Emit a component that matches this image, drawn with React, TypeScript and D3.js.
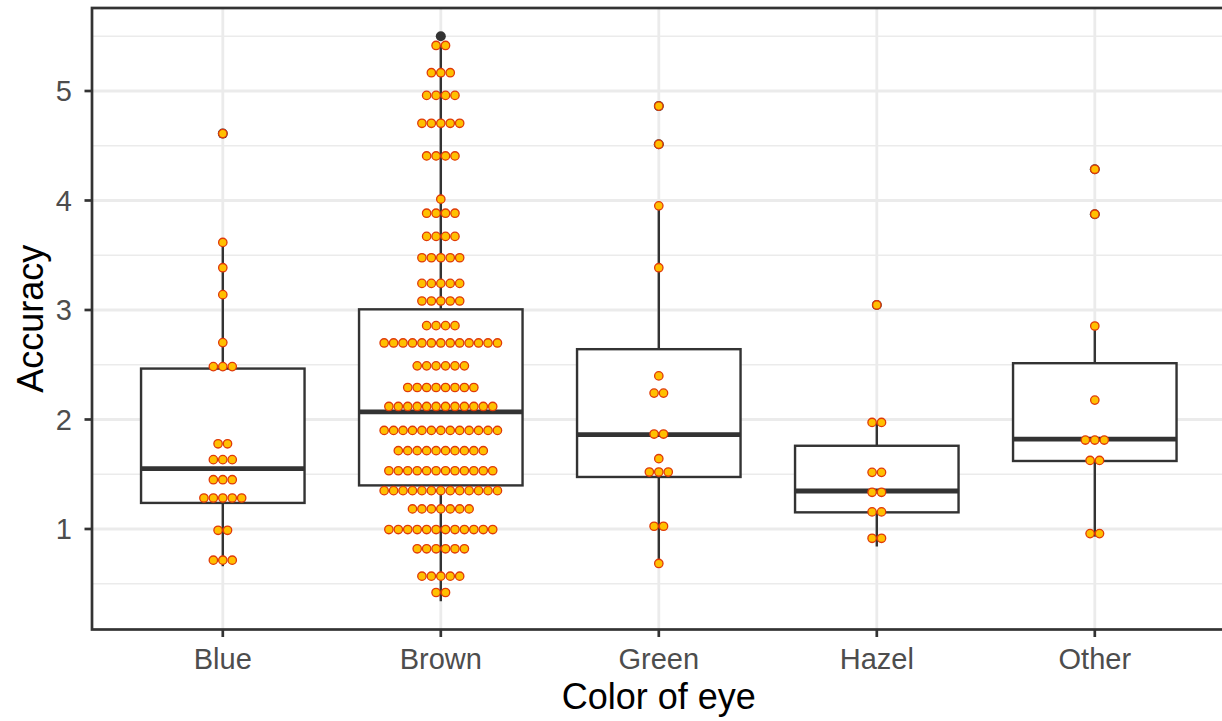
import React from "react";
import * as d3 from "d3";

const categories = ["Blue", "Brown", "Green", "Hazel", "Other"];

// box stats: [lowerWhisker, q1, median, q3, upperWhisker]
const boxLow = [0.66, 0.34, 0.66, 0.84, 0.93];
const boxQ1 = [1.238, 1.398, 1.475, 1.152, 1.621];
const boxMed = [1.551, 2.07, 1.861, 1.347, 1.821];
const boxQ3 = [2.465, 3.006, 2.642, 1.76, 2.514];
const boxHigh = [3.62, 5.42, 3.95, 1.97, 2.854];

// outliers per category
const outliers: number[][] = [
  [4.611],
  [5.5],
  [4.862, 4.513],
  [3.046],
  [4.285, 3.875],
];

// dot rows (bin centre value, number of dots) per category
const dotValues: number[][] = [
  [4.611, 3.617, 3.386, 3.14, 2.702, 2.483, 1.778, 1.633, 1.45, 1.283, 0.988, 0.715],
  [5.416, 5.167, 4.96, 4.705, 4.407, 4.012, 3.884, 3.672, 3.477, 3.243, 3.082, 2.857, 2.699, 2.49, 2.292, 2.119, 1.9, 1.715, 1.532, 1.35, 1.183, 0.995, 0.819, 0.569, 0.42],
  [4.862, 4.513, 3.951, 3.386, 2.398, 2.241, 1.867, 1.642, 1.52, 1.025, 0.685],
  [3.046, 1.973, 1.517, 1.335, 1.156, 0.915],
  [4.285, 3.875, 2.854, 2.177, 1.812, 1.626, 0.958],
];
const dotCounts: number[][] = [
  [1, 1, 1, 1, 1, 3, 2, 3, 3, 5, 2, 3],
  [2, 3, 4, 5, 4, 1, 4, 4, 5, 5, 5, 4, 13, 6, 8, 12, 13, 10, 12, 13, 7, 12, 6, 5, 2],
  [1, 1, 1, 1, 1, 2, 2, 1, 3, 2, 1],
  [1, 2, 2, 2, 2, 2],
  [1, 1, 1, 1, 3, 2, 2],
];

const yTicks = [1, 2, 3, 4, 5];
const yMinor = [0.5, 1.5, 2.5, 3.5, 4.5, 5.5];

const W = 1222;
const H = 721;
const left = 92;
const top = 8;
const bottom = 629.5;
const unit = 218;
const right = left + unit * 5.2;

const FONT = "'Liberation Sans', Arial, Helvetica, sans-serif";

export default function App() {
  const x = d3
    .scalePoint<string>()
    .domain(categories)
    .range([left + unit * 0.6, right - unit * 0.6]);
  const dataMin = 0.34;
  const dataMax = 5.5;
  const pad = (dataMax - dataMin) * 0.05;
  const y = d3
    .scaleLinear()
    .domain([dataMin - pad, dataMax + pad])
    .range([bottom, top]);

  const boxW = unit * 0.75;
  const dotD = 9.44;
  const dotR = 4.2;
  const grid = "#EBEBEB";
  const dark = "#333333";

  return (
    <svg
      width={W}
      height={H}
      style={{ position: "absolute", left: 0, top: 0, background: "#fff" }}
    >
      <rect x={0} y={0} width={W} height={H} fill="#fff" />
      {/* minor grid */}
      {yMinor.map((v) => (
        <line key={"mi" + v} x1={left} x2={right} y1={y(v)} y2={y(v)} stroke={grid} strokeWidth={1.4} />
      ))}
      {/* major grid */}
      {yTicks.map((v) => (
        <line key={"ma" + v} x1={left} x2={right} y1={y(v)} y2={y(v)} stroke={grid} strokeWidth={2.8} />
      ))}
      {categories.map((c) => (
        <line key={"vg" + c} x1={x(c)!} x2={x(c)!} y1={top} y2={bottom} stroke={grid} strokeWidth={2.8} />
      ))}

      {/* boxplots */}
      {categories.map((c, i) => {
        const cx = x(c)!;
        return (
          <g key={"box" + c}>
            <line x1={cx} x2={cx} y1={y(boxQ3[i])} y2={y(boxHigh[i])} stroke={dark} strokeWidth={2.4} />
            <line x1={cx} x2={cx} y1={y(boxQ1[i])} y2={y(boxLow[i])} stroke={dark} strokeWidth={2.4} />
            <rect
              x={cx - boxW / 2}
              y={y(boxQ3[i])}
              width={boxW}
              height={y(boxQ1[i]) - y(boxQ3[i])}
              fill="#fff"
              stroke={dark}
              strokeWidth={2.4}
            />
            <line x1={cx - boxW / 2} x2={cx + boxW / 2} y1={y(boxMed[i])} y2={y(boxMed[i])} stroke={dark} strokeWidth={4.8} />
            {outliers[i].map((o, k) => (
              <circle key={k} cx={cx} cy={y(o)} r={5} fill={dark} />
            ))}
          </g>
        );
      })}

      {/* dots */}
      {categories.map((c, i) => {
        const cx = x(c)!;
        return (
          <g key={"dots" + c}>
            {dotValues[i].map((v, j) => {
              const n = dotCounts[i][j];
              return d3.range(n).map((k) => (
                <circle
                  key={j + "-" + k}
                  cx={cx + (k - (n - 1) / 2) * dotD}
                  cy={y(v)}
                  r={dotR}
                  fill="#FFC000"
                  stroke="#E03A08"
                  strokeWidth={1.3}
                />
              ));
            })}
          </g>
        );
      })}

      {/* panel border */}
      <rect x={left} y={top} width={right - left} height={bottom - top} fill="none" stroke={dark} strokeWidth={2.7} />

      {/* y axis ticks */}
      {yTicks.map((v) => (
        <g key={"yt" + v}>
          <line x1={left - 7.5} x2={left} y1={y(v)} y2={y(v)} stroke={dark} strokeWidth={2.7} />
          <text
            x={left - 20}
            y={y(v)}
            dy="0.36em"
            textAnchor="end"
            fontFamily={FONT}
            fontSize={29}
            fill="#4D4D4D"
          >
            {v}
          </text>
        </g>
      ))}
      {/* x axis ticks */}
      {categories.map((c) => (
        <g key={"xt" + c}>
          <line x1={x(c)!} x2={x(c)!} y1={bottom} y2={bottom + 7.5} stroke={dark} strokeWidth={2.7} />
          <text x={x(c)!} y={669} textAnchor="middle" fontFamily={FONT} fontSize={29} fill="#4D4D4D">
            {c}
          </text>
        </g>
      ))}

      {/* axis titles */}
      <text x={(left + right) / 2} y={709} textAnchor="middle" fontFamily={FONT} fontSize={36} fill="#000">
        Color of eye
      </text>
      <text
        transform={`translate(${43},${(top + bottom) / 2}) rotate(-90)`}
        textAnchor="middle"
        fontFamily={FONT}
        fontSize={36}
        fill="#000"
      >
        Accuracy
      </text>
    </svg>
  );
}
